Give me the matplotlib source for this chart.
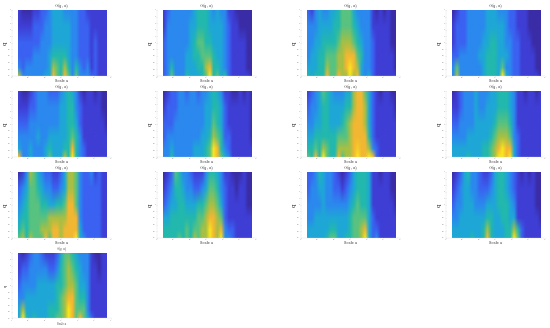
import matplotlib
matplotlib.use("Agg")
import matplotlib.pyplot as plt
import numpy as np
from matplotlib.colors import LinearSegmentedColormap, Normalize
from matplotlib.image import NonUniformImage
from matplotlib.patches import Rectangle

# scale a along the columns, q along the rows (rows listed top to bottom)
SCALE_A = [7.0, 8.2, 9.3, 10.5, 11.6, 12.8, 13.9, 15.1, 16.3, 17.4, 18.6, 19.7,
           20.9, 22.0, 23.2, 24.3, 25.5, 26.7, 27.8, 29.0, 30.1, 31.3, 32.4, 33.6]
Q_LEVELS = [5.0, 2.5, 0.0, -2.0, -3.8, -5.0]
X_TICKS = [5, 10, 15, 20, 25, 30, 35]
Y_TICKS = [-5, -4, -3, -2, -1, 0, 1, 2, 3, 4, 5]

P1 = [[1, 0, 0, 0, 1, 1, 2, 2, 3, 4, 4, 4, 3, 3, 3, 3, 2, 2, 1, 1, 1, 1, 1, 1],
      [1, 1, 1, 1, 2, 2, 2, 3, 3, 4, 4, 4, 4, 4, 3, 3, 2, 2, 2, 1, 1, 1, 1, 1],
      [2, 2, 2, 2, 2, 2, 3, 3, 3, 4, 4, 4, 4, 4, 3, 3, 2, 2, 2, 1, 2, 1, 1, 1],
      [2, 2, 2, 2, 3, 3, 3, 3, 4, 5, 5, 5, 5, 4, 3, 3, 2, 2, 2, 1, 2, 1, 1, 1],
      [3, 2, 3, 3, 3, 3, 3, 3, 4, 7, 6, 5, 7, 5, 3, 5, 3, 2, 3, 1, 2, 1, 1, 1],
      [7, 3, 3, 3, 3, 3, 3, 4, 4, 8, 6, 5, 8, 6, 3, 6, 3, 3, 3, 2, 2, 1, 1, 1]]
P2 = [[1, 2, 3, 3, 3, 3, 3, 3, 4, 5, 5, 5, 4, 3, 4, 3, 3, 1, 1, 0, 0, 0, 0, 0],
      [1, 3, 3, 3, 3, 3, 3, 4, 4, 5, 5, 5, 4, 4, 4, 4, 3, 2, 1, 1, 0, 0, 0, 0],
      [2, 3, 3, 3, 3, 3, 3, 4, 5, 6, 6, 5, 5, 4, 4, 4, 3, 2, 1, 1, 1, 1, 0, 0],
      [2, 3, 3, 3, 3, 3, 4, 4, 5, 5, 6, 6, 6, 5, 4, 4, 3, 2, 1, 1, 1, 1, 0, 0],
      [2, 3, 5, 3, 3, 3, 4, 4, 4, 5, 5, 7, 8, 5, 5, 4, 3, 2, 1, 1, 1, 1, 0, 0],
      [2, 3, 6, 3, 3, 3, 5, 4, 4, 4, 5, 6, 9, 5, 6, 4, 5, 2, 1, 1, 1, 1, 1, 0]]
P3 = [[2, 1, 3, 4, 3, 3, 4, 4, 5, 6, 6, 6, 4, 3, 3, 3, 3, 1, 0, 1, 0, 1, 0, 0],
      [3, 3, 3, 4, 4, 4, 4, 5, 5, 6, 6, 6, 5, 4, 3, 3, 3, 1, 1, 1, 1, 1, 0, 0],
      [3, 3, 4, 4, 5, 5, 5, 5, 6, 7, 7, 7, 6, 5, 4, 3, 3, 2, 1, 1, 1, 1, 0, 0],
      [3, 4, 4, 5, 5, 6, 6, 6, 7, 7, 8, 8, 8, 6, 5, 3, 3, 2, 1, 1, 1, 1, 1, 0],
      [4, 4, 4, 5, 5, 7, 6, 6, 7, 7, 8, 9, 8, 7, 4, 3, 3, 2, 1, 1, 1, 1, 1, 0],
      [5, 4, 5, 5, 5, 8, 6, 6, 8, 7, 7, 9, 7, 8, 4, 3, 4, 2, 1, 1, 1, 1, 1, 1]]
P4 = [[0, 1, 2, 2, 3, 3, 3, 3, 3, 4, 4, 4, 3, 3, 3, 2, 2, 1, 1, 1, 0, 0, 0, 0],
      [1, 2, 2, 2, 3, 3, 3, 3, 3, 4, 4, 4, 4, 4, 3, 2, 2, 1, 1, 1, 0, 0, 0, 0],
      [1, 2, 2, 2, 3, 3, 3, 3, 4, 4, 5, 5, 4, 4, 3, 3, 2, 2, 1, 1, 1, 0, 0, 0],
      [2, 2, 3, 3, 3, 3, 3, 4, 4, 5, 5, 5, 4, 4, 4, 3, 2, 2, 1, 1, 1, 1, 0, 0],
      [3, 6, 3, 3, 3, 3, 3, 3, 4, 5, 5, 5, 4, 6, 3, 3, 2, 2, 1, 1, 1, 1, 0, 0],
      [3, 7, 3, 3, 3, 3, 3, 3, 4, 5, 5, 5, 4, 9, 4, 3, 2, 2, 1, 1, 1, 1, 1, 0]]
P5 = [[1, 0, 0, 1, 2, 3, 3, 3, 2, 2, 2, 3, 4, 5, 4, 3, 1, 0, 1, 1, 0, 1, 0, 0],
      [1, 1, 1, 2, 2, 3, 3, 3, 3, 3, 3, 4, 4, 5, 5, 3, 2, 1, 1, 1, 1, 1, 0, 0],
      [2, 2, 2, 3, 3, 3, 3, 3, 3, 3, 3, 4, 4, 5, 5, 4, 2, 1, 1, 1, 1, 1, 1, 0],
      [3, 3, 3, 3, 3, 4, 3, 3, 4, 4, 4, 4, 4, 5, 6, 5, 3, 1, 1, 1, 1, 1, 1, 1],
      [4, 3, 3, 4, 3, 3, 3, 4, 5, 4, 4, 4, 5, 5, 8, 5, 3, 2, 1, 1, 1, 1, 1, 1],
      [8, 3, 3, 4, 3, 3, 3, 4, 6, 4, 4, 4, 7, 5, 9, 5, 3, 2, 1, 1, 1, 1, 1, 1]]
P6 = [[0, 1, 2, 2, 3, 3, 2, 3, 3, 2, 3, 3, 4, 5, 4, 3, 1, 1, 0, 0, 1, 0, 1, 0],
      [1, 2, 2, 2, 3, 3, 3, 3, 3, 3, 3, 4, 4, 5, 5, 4, 2, 1, 1, 1, 1, 1, 1, 0],
      [2, 2, 2, 3, 3, 3, 3, 3, 3, 3, 3, 4, 4, 6, 5, 4, 2, 1, 1, 1, 1, 1, 1, 0],
      [2, 3, 3, 3, 3, 3, 3, 3, 3, 3, 4, 4, 5, 7, 6, 5, 2, 2, 1, 1, 1, 1, 1, 0],
      [3, 3, 4, 3, 3, 3, 3, 3, 4, 4, 4, 5, 6, 9, 8, 5, 3, 2, 1, 1, 1, 1, 1, 1],
      [3, 3, 5, 3, 3, 3, 3, 3, 4, 4, 4, 5, 6, 9, 8, 6, 4, 3, 1, 1, 1, 1, 1, 1]]
P7 = [[1, 2, 3, 4, 6, 5, 4, 3, 3, 3, 4, 4, 7, 8, 8, 6, 4, 2, 1, 0, 1, 1, 0, 0],
      [2, 3, 3, 4, 5, 5, 4, 4, 4, 4, 5, 5, 7, 8, 8, 7, 4, 2, 1, 1, 1, 1, 1, 0],
      [3, 3, 4, 4, 5, 5, 4, 4, 4, 5, 6, 7, 8, 8, 8, 7, 4, 2, 1, 1, 1, 1, 1, 1],
      [4, 4, 5, 5, 5, 5, 5, 5, 6, 6, 6, 7, 8, 8, 8, 8, 5, 2, 1, 1, 1, 1, 1, 1],
      [5, 5, 6, 5, 7, 6, 5, 5, 7, 7, 7, 7, 8, 8.5, 8, 8, 7, 3, 2, 1, 1, 1, 1, 1],
      [6, 5, 8, 5, 9, 6, 5, 5, 8, 6, 7, 7, 8, 9, 8, 8, 9, 8, 2, 1, 1, 1, 1, 1]]
P8 = [[0, 1, 2, 3, 3, 3, 4, 3, 3, 3, 4, 4, 5, 5, 5, 4, 3, 1, 1, 0, 1, 1, 0, 1],
      [1, 1, 2, 3, 3, 3, 4, 3, 3, 4, 4, 4, 5, 5, 5, 4, 3, 1, 1, 1, 1, 1, 1, 1],
      [2, 2, 3, 3, 3, 3, 4, 4, 4, 4, 4, 5, 6, 6, 6, 5, 3, 1, 1, 1, 1, 1, 1, 1],
      [3, 3, 3, 3, 4, 4, 4, 4, 4, 4, 5, 6, 7, 7, 7, 6, 3, 2, 1, 1, 1, 1, 1, 1],
      [4, 4, 4, 4, 4, 4, 4, 4, 5, 5, 6, 7, 8, 9, 8, 8, 4, 2, 1, 1, 1, 1, 1, 1],
      [4, 4, 4, 4, 5, 4, 4, 4, 5, 5, 6, 7, 9, 9, 8, 9, 4, 2, 1, 1, 1, 1, 1, 1]]
P9 = [[0, 1, 3, 7, 6, 4, 3, 2, 2, 1, 1, 2, 4, 7, 7, 6, 3, 2, 2, 3, 1, 2, 1, 1],
      [2, 3, 4, 6, 6, 5, 4, 3, 3, 2, 2, 3, 4, 7, 7, 6, 3, 2, 2, 2, 2, 2, 1, 1],
      [3, 4, 5, 6, 6, 6, 5, 5, 4, 4, 5, 5, 6, 8, 8, 6, 3, 2, 2, 2, 2, 2, 1, 1],
      [4, 5, 5, 6, 6, 6, 6, 6, 7, 7, 7, 7, 7, 8, 8, 8, 3, 2, 2, 2, 2, 2, 1, 1],
      [5, 6, 5, 6, 6, 6, 7, 7, 7, 8, 8, 7, 8, 8, 8, 8, 4, 2, 2, 2, 2, 2, 1, 1],
      [6, 7, 5, 7, 6, 6, 6, 8, 6, 8, 8, 7, 8, 8, 8, 9, 4, 3, 2, 2, 2, 2, 1, 1]]
P10 = [[0, 1, 2, 6, 5, 3, 3, 2, 1, 1, 1, 3, 5, 5, 4, 3, 1, 1, 0, 0, 0, 1, 0, 0],
       [1, 2, 3, 5, 5, 4, 3, 3, 2, 2, 3, 4, 6, 6, 5, 3, 2, 1, 1, 0, 1, 1, 0, 0],
       [2, 3, 4, 4, 5, 5, 4, 4, 4, 5, 5, 6, 7, 7, 6, 4, 2, 1, 1, 1, 1, 1, 0, 0],
       [4, 4, 5, 5, 5, 5, 5, 5, 5, 6, 6, 7, 8, 8, 7, 6, 2, 1, 1, 1, 1, 1, 1, 1],
       [5, 5, 5, 5, 5, 5, 6, 5, 6, 6, 7, 7, 9, 8, 7, 8, 3, 2, 2, 1, 1, 1, 1, 1],
       [5, 5, 5, 5, 6, 5, 6, 5, 7, 6, 7, 7, 9, 8, 7, 9, 3, 3, 2, 1, 1, 1, 1, 1]]
P11 = [[2, 2, 3, 5, 4, 3, 3, 2, 1, 0, 1, 2, 4, 5, 5, 5, 4, 1, 1, 0, 1, 1, 0, 0],
       [2, 3, 3, 4, 4, 3, 3, 2, 2, 1, 2, 3, 4, 5, 5, 5, 4, 1, 1, 1, 1, 1, 0, 0],
       [3, 3, 3, 3, 4, 3, 3, 3, 3, 3, 3, 4, 5, 6, 5, 5, 4, 1, 1, 1, 1, 1, 1, 0],
       [3, 3, 4, 4, 4, 4, 4, 4, 4, 4, 4, 5, 6, 6, 6, 6, 4, 2, 1, 1, 1, 1, 1, 1],
       [4, 4, 4, 4, 4, 4, 5, 5, 4, 4, 4, 5, 6, 6, 7, 8, 4, 2, 2, 1, 1, 1, 1, 1],
       [4, 4, 4, 4, 4, 5, 6, 6, 4, 4, 5, 5, 6, 6, 7, 9, 4, 2, 3, 1, 1, 1, 1, 1]]
P12 = [[0, 1, 2, 4, 5, 3, 3, 2, 1, 1, 2, 4, 5, 5, 4, 3, 2, 1, 0, 1, 0, 1, 0, 0],
       [1, 2, 3, 4, 4, 3, 3, 2, 2, 2, 3, 4, 5, 5, 4, 3, 2, 1, 1, 1, 1, 1, 0, 0],
       [2, 3, 3, 4, 4, 4, 3, 3, 3, 4, 4, 4, 5, 5, 5, 4, 3, 1, 1, 1, 1, 1, 0, 0],
       [3, 3, 4, 4, 4, 4, 4, 4, 4, 5, 5, 4, 4, 5, 5, 4, 4, 1, 1, 1, 1, 1, 1, 0],
       [4, 4, 4, 4, 4, 4, 4, 4, 5, 7, 5, 4, 4, 4, 5, 5, 7, 5, 2, 1, 1, 1, 1, 1],
       [4, 4, 4, 4, 4, 5, 4, 4, 5, 8, 5, 4, 4, 4, 5, 5, 9, 6, 2, 1, 1, 1, 1, 1]]
P13 = [[1, 0, 1, 2, 3, 3, 2, 1, 1, 1, 2, 4, 6, 6, 5, 4, 3, 3, 3, 1, 0, 0, 1, 1],
       [1, 2, 2, 3, 3, 3, 3, 3, 2, 2, 3, 5, 6, 7, 6, 5, 4, 3, 3, 1, 1, 0, 1, 1],
       [2, 3, 3, 3, 3, 4, 4, 4, 4, 4, 5, 5, 6, 7, 7, 6, 4, 4, 3, 1, 1, 1, 1, 1],
       [3, 3, 4, 4, 4, 4, 4, 4, 4, 4, 5, 6, 7, 8, 8, 6, 5, 5, 3, 1, 1, 1, 1, 1],
       [4, 7, 4, 4, 4, 4, 4, 4, 5, 5, 5, 6, 7, 9, 8, 6, 6, 6, 3, 1, 1, 1, 1, 1],
       [4, 9, 5, 4, 5, 4, 4, 4, 5, 5, 6, 6, 7, 9, 8, 6, 8, 6, 4, 2, 1, 1, 1, 1]]
PANELS = [P1, P2, P3, P4, P5, P6, P7, P8, P9, P10, P11, P12, P13]

W, H = 550, 328
COL_LEFT = [11.7, 156.7, 300.7, 445.7]
ROW_TOP = [10, 91.3, 172, 252.7]
AX_W, AX_H = 99, 65.7

PARULA = LinearSegmentedColormap.from_list(
    "parula_like",
    ["#3a2ca6", "#3f3fd6", "#3a62f2", "#2b88ee", "#1ea8d6",
     "#22b8ae", "#58c280", "#a6c045", "#f2b733", "#f9e61e"],
)

plt.rcParams["font.family"] = "DejaVu Serif"
plt.rcParams["mathtext.fontset"] = "cm"
fig = plt.figure(figsize=(W / 100, H / 100), dpi=100)

for i, vals in enumerate(PANELS):
    row, col = i // 4, i % 4
    ax = fig.add_axes([COL_LEFT[col] / W, 1 - (ROW_TOP[row] + AX_H) / H, AX_W / W, AX_H / H])
    ax.set_xlim(X_TICKS[0], X_TICKS[-1])
    ax.set_ylim(Y_TICKS[0], Y_TICKS[-1])

    # rows flipped because the image wants q ascending
    im = NonUniformImage(ax, interpolation="bilinear", cmap=PARULA, norm=Normalize(0, 9))
    im.set_data(SCALE_A, Q_LEVELS[::-1], np.array(vals, dtype=float)[::-1])
    ax.add_image(im)
    im.set_clip_path(Rectangle((SCALE_A[0], Q_LEVELS[-1]), SCALE_A[-1] - SCALE_A[0],
                               Q_LEVELS[0] - Q_LEVELS[-1], transform=ax.transData))

    ax.set_xticks(X_TICKS)
    ax.set_yticks(Y_TICKS)
    ax.tick_params(length=0.6, width=0.2, labelsize=1.3, pad=0.2, color="#aaaaaa", labelcolor="#888888")
    for side in ["top", "right"]:
        ax.spines[side].set_visible(False)
    for side in ["left", "bottom"]:
        ax.spines[side].set_linewidth(0.2)
        ax.spines[side].set_color("#d5d5d5")

    small = i == 12
    ax.set_title(r"$\alpha(q,a)$", fontsize=2.4 if small else 3.5, pad=0.5, color="#222222")
    ax.set_xlabel("Scale a", fontsize=1.8 if small else 2.6, color="#333333")
    ax.xaxis.set_label_coords(0.5, -0.048)
    ax.set_ylabel("q", fontsize=2.4 if small else 4.0, color="#222222")
    ax.yaxis.set_label_coords(-0.035, 0.5)

fig.savefig("out.png", dpi=100)
